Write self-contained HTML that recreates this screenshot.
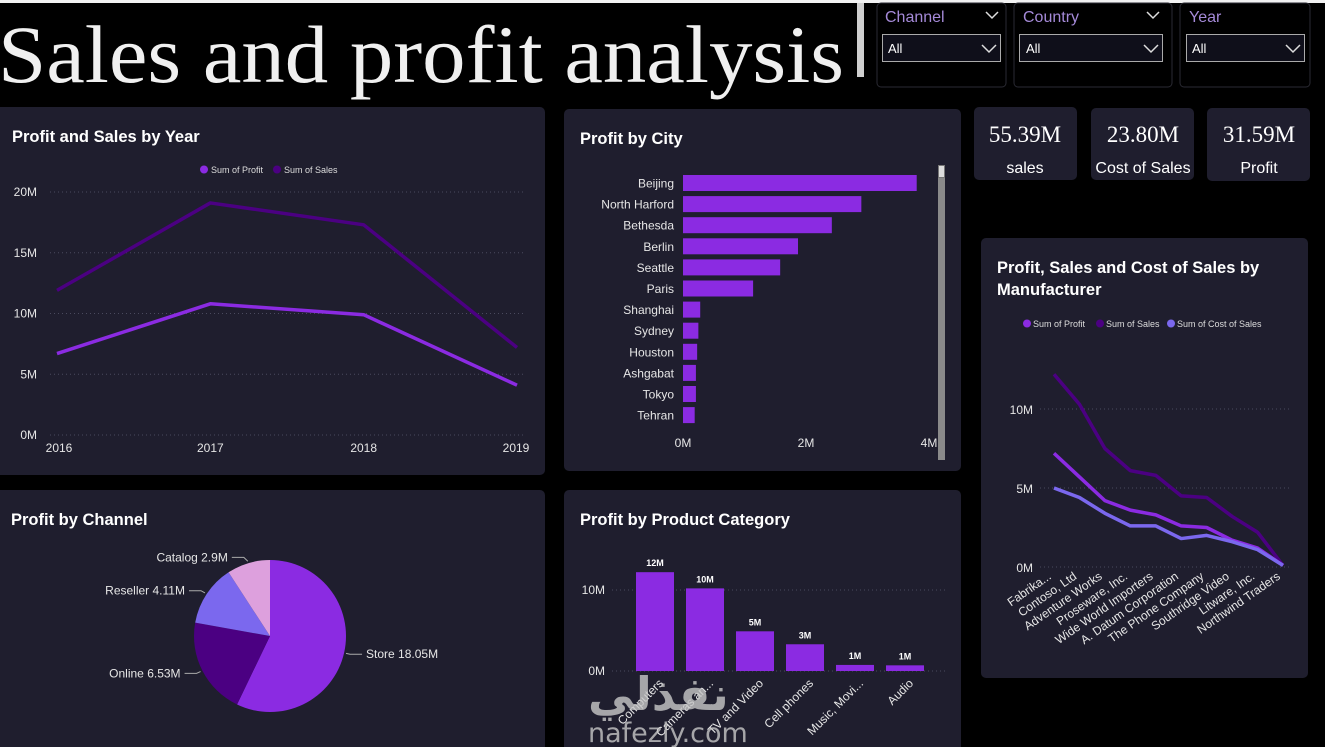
<!DOCTYPE html>
<html><head><meta charset="utf-8"><style>
html,body{margin:0;padding:0;background:#000;width:1325px;height:747px;overflow:hidden}
svg{display:block;font-family:"Liberation Sans","Noto Sans CJK SC",sans-serif}
.t{fill:#fff;font-weight:bold;font-size:16.5px}
.ax{fill:#e6e6e6;font-size:12px}
.grid{stroke:#4a4a5e;stroke-width:1;stroke-dasharray:1 3}
</style></head><body>
<svg id="s" width="1325" height="747" viewBox="0 0 1325 747">
<rect x="0" y="0" width="1325" height="747" fill="#000"/>
<rect x="0" y="0" width="1325" height="3" fill="#f2f2f2"/>
<text x="-2" y="82" font-family="'Liberation Serif',serif" font-size="82" textLength="846" lengthAdjust="spacingAndGlyphs" fill="#f0f0f0">Sales and profit analysis</text>
<rect x="857" y="3" width="7" height="74" fill="#cfcfcf"/>

<g>
<rect x="877" y="3" width="129" height="84" rx="4" fill="#000" stroke="#2a2a33"/>
<text x="885" y="22" fill="#a58ad8" font-size="16">Channel</text>
<path d="M986 12l6 6 6-6" stroke="#ddd" fill="none" stroke-width="1.5"/>
<rect x="882.5" y="34.5" width="118" height="27" fill="#0f0f1a" stroke="#aaa"/>
<text x="888" y="53" fill="#fff" font-size="13">All</text>
<path d="M982 45l7 7 7-7" stroke="#ddd" fill="none" stroke-width="1.5"/>
</g>
<g>
<rect x="1014" y="3" width="158" height="84" rx="4" fill="#000" stroke="#2a2a33"/>
<text x="1023" y="22" fill="#a58ad8" font-size="16">Country</text>
<path d="M1147 12l6 6 6-6" stroke="#ddd" fill="none" stroke-width="1.5"/>
<rect x="1019.5" y="34.5" width="143" height="27" fill="#0f0f1a" stroke="#aaa"/>
<text x="1026" y="53" fill="#fff" font-size="13">All</text>
<path d="M1144 45l7 7 7-7" stroke="#ddd" fill="none" stroke-width="1.5"/>
</g>
<g>
<rect x="1180" y="3" width="130" height="84" rx="4" fill="#000" stroke="#2a2a33"/>
<text x="1189" y="22" fill="#a58ad8" font-size="16">Year</text>
<rect x="1186.5" y="34.5" width="118" height="27" fill="#0f0f1a" stroke="#aaa"/>
<text x="1192" y="53" fill="#fff" font-size="13">All</text>
<path d="M1286 45l7 7 7-7" stroke="#ddd" fill="none" stroke-width="1.5"/>
</g>

<g>
<rect x="974" y="107" width="103" height="73" rx="5" fill="#1f1e2e"/>
<text x="1025" y="142" text-anchor="middle" fill="#fff" font-family="'Liberation Serif',serif" font-size="23">55.39M</text>
<text x="1025" y="173" text-anchor="middle" fill="#fff" font-size="16">sales</text></g>
<g>
<rect x="1091" y="108" width="103" height="72" rx="5" fill="#1f1e2e"/>
<text x="1143" y="142" text-anchor="middle" fill="#fff" font-family="'Liberation Serif',serif" font-size="23">23.80M</text>
<text x="1143" y="173" text-anchor="middle" fill="#fff" font-size="16">Cost of Sales</text></g>
<g>
<rect x="1207" y="108" width="103" height="73" rx="5" fill="#1f1e2e"/>
<text x="1259" y="142" text-anchor="middle" fill="#fff" font-family="'Liberation Serif',serif" font-size="23">31.59M</text>
<text x="1259" y="173" text-anchor="middle" fill="#fff" font-size="16">Profit</text></g>

<rect x="-5" y="107" width="550" height="368" rx="5" fill="#1f1e2e"/>
<text class="t" x="12" y="142">Profit and Sales by Year</text>
<g>
<circle cx="204" cy="169.5" r="4" fill="#8b2be2"/><text x="211" y="173" fill="#ddd" font-size="9">Sum of Profit</text>
<circle cx="277" cy="169.5" r="4" fill="#4b0082"/><text x="284" y="173" fill="#ddd" font-size="9">Sum of Sales</text></g>
<g id="yearChart"></g>

<rect x="564" y="109" width="397" height="362" rx="5" fill="#1f1e2e"/>
<text class="t" x="580" y="144">Profit by City</text>
<g id="cityChart"></g>
<rect x="938" y="165" width="7" height="295" fill="#8a8a8a"/>
<rect x="938.5" y="165.5" width="6" height="12" fill="#ddd" stroke="#777"/>

<rect x="981" y="238" width="327" height="440" rx="5" fill="#1f1e2e"/>
<text class="t" x="997" y="273">Profit, Sales and Cost of Sales by</text>
<text class="t" x="997" y="295">Manufacturer</text>
<g>
<circle cx="1027" cy="323.5" r="4" fill="#8b2be2"/><text x="1033" y="327" fill="#ddd" font-size="9">Sum of Profit</text>
<circle cx="1100" cy="323.5" r="4" fill="#4b0082"/><text x="1106" y="327" fill="#ddd" font-size="9">Sum of Sales</text>
<circle cx="1171" cy="323.5" r="4" fill="#7b68ee"/><text x="1177" y="327" fill="#ddd" font-size="9">Sum of Cost of Sales</text></g>
<g id="mfrChart"></g>

<rect x="-5" y="490" width="550" height="262" rx="5" fill="#1f1e2e"/>
<text class="t" x="11" y="525">Profit by Channel</text>
<g id="pieChart"></g>

<rect x="564" y="490" width="397" height="262" rx="5" fill="#1f1e2e"/>
<text class="t" x="580" y="525">Profit by Product Category</text>
<g id="catChart"></g>
<g opacity="0.8">
<text x="588" y="710" fill="#c8c8c8" font-size="46" font-weight="bold" font-family="'DejaVu Sans',sans-serif">نفذلي</text>
<text x="588" y="742" fill="#c8c8c8" font-size="27" font-family="'DejaVu Sans',sans-serif">nafezly.com</text></g>
</svg>
<script>
const NS="http://www.w3.org/2000/svg";
function mk(p,tag,a,txt){const e=document.createElementNS(NS,tag);for(const k in a)e.setAttribute(k,a[k]);if(txt!=null)e.textContent=txt;p.appendChild(e);return e;}

// Year chart data
const years=["2016","2017","2018","2019"];
const yearProfit=[6.7,10.8,9.9,4.1];
const yearSales=[11.9,19.1,17.3,7.2];
const yearTicks=[0,5,10,15,20];

// City data
const cities=["Beijing","North Harford","Bethesda","Berlin","Seattle","Paris","Shanghai","Sydney","Houston","Ashgabat","Tokyo","Tehran"];
const cityProfit=[3.80,2.90,2.42,1.87,1.58,1.14,0.28,0.25,0.23,0.21,0.21,0.19];
const cityTicks=[0,2,4];

// Manufacturer data
const makers=["Fabrika...","Contoso, Ltd","Adventure Works","Proseware, Inc.","Wide World Importers","A. Datum Corporation","The Phone Company","Southridge Video","Litware, Inc.","Northwind Traders"];
const mfrSales=[12.2,10.3,7.5,6.1,5.8,4.5,4.4,3.2,2.2,0.1];
const mfrProfit=[7.2,5.7,4.2,3.6,3.3,2.6,2.5,1.7,1.2,0.1];
const mfrCost=[5.0,4.4,3.4,2.6,2.6,1.8,2.0,1.6,1.1,0.1];
const mfrTicks=[0,5,10];

// Channel pie
const channels=["Store","Online","Reseller","Catalog"];
const channelProfit=[18.05,6.53,4.11,2.9];
const channelLabels=["Store 18.05M","Online 6.53M","Reseller 4.11M","Catalog 2.9M"];

// Category data
const categories=["Computers","Cameras an...","TV and Video","Cell phones","Music, Movi...","Audio"];
const catProfit=[12.2,10.2,4.9,3.3,0.75,0.7];
const catLabels=["12M","10M","5M","3M","1M","1M"];
const catTicks=[0,10];

// ---- Year line chart
(function(){
 const g=document.getElementById('yearChart');
 const y=v=>435-v*12.15, x=i=>57+i*(517-57)/(years.length-1);
 yearTicks.forEach(t=>{
  const l=mk(g,'line',{x1:50,x2:525,y1:y(t),y2:y(t),class:'grid'});
  
  
  const tx=mk(g,'text',{x:37,y:y(t)+4,'text-anchor':'end',class:'ax'},t+'M');
  
  
 });
 years.forEach((yr,i)=>{
  const tx=mk(g,'text',{x:x(i)+(i==0?2:i==years.length-1?-1:0),y:452,'text-anchor':'middle',class:'ax'},yr);
  
  
 });
 [[yearSales,'#4b0082','sales-line'],[yearProfit,'#8b2be2','profit-line']].forEach(([d,c,n])=>{
  const p=mk(g,'polyline',{points:d.map((v,i)=>x(i)+','+y(v)).join(' '),fill:'none',stroke:c,'stroke-width':3.5,'stroke-linejoin':'round'});
  
  
 });
})();

// ---- City bar chart
(function(){
 const g=document.getElementById('cityChart');
 const x=v=>683+v*61.5, rowY=i=>175+i*21.1;
 cities.forEach((c,i)=>{
  const r=mk(g,'rect',{x:683,y:rowY(i),width:x(cityProfit[i])-683,height:16,fill:'#8b2be2'});
  
  
  const t=mk(g,'text',{x:674,y:rowY(i)+12.5,'text-anchor':'end',class:'ax'},c);
  
  
 });
 cityTicks.forEach(t=>{
  const tx=mk(g,'text',{x:x(t),y:447,'text-anchor':'middle',class:'ax'},t+'M');
  
  
 });
})();

// ---- Manufacturer line chart
(function(){
 const g=document.getElementById('mfrChart');
 const y=v=>567-v*15.8, x=i=>1054+i*(1283-1054)/(makers.length-1);
 mfrTicks.forEach(t=>{
  const l=mk(g,'line',{x1:1040,x2:1290,y1:y(t),y2:y(t),class:'grid'});
  
  
  const tx=mk(g,'text',{x:1033,y:y(t)+5,'text-anchor':'end',class:'ax'},t+'M');
  
  
 });
 makers.forEach((m,i)=>{
  const tx=mk(g,'text',{x:x(i)-2,y:578,'text-anchor':'end',class:'ax','font-size':'13',transform:`rotate(-35 ${x(i)-2} 578)`},m);
  
  
 });
 [[mfrSales,'#4b0082','mfr-sales-line'],[mfrProfit,'#8b2be2','mfr-profit-line'],[mfrCost,'#7b68ee','mfr-cost-line']].forEach(([d,c,n])=>{
  const p=mk(g,'polyline',{points:d.map((v,i)=>x(i)+','+y(v)).join(' '),fill:'none',stroke:c,'stroke-width':3.5,'stroke-linejoin':'round'});
  
  
 });
})();

// ---- Pie
(function(){
 const g=document.getElementById('pieChart');
 const cx=270,cy=636,r=76,cols=['#8b2be2','#4b0082','#7b68ee','#dda0dd'];
 const tot=channelProfit.reduce((a,b)=>a+b,0);
 let a0=-Math.PI/2;
 channelProfit.forEach((v,i)=>{
  const a1=a0+v/tot*2*Math.PI;
  const large=(a1-a0)>Math.PI?1:0;
  const p=mk(g,'path',{d:`M${cx},${cy} L${cx+r*Math.cos(a0)},${cy+r*Math.sin(a0)} A${r},${r} 0 ${large} 1 ${cx+r*Math.cos(a1)},${cy+r*Math.sin(a1)} Z`,fill:cols[i]});
  
  
  const am=(a0+a1)/2, ex=cx+(r+2)*Math.cos(am), ey=cy+(r+2)*Math.sin(am);
  const right=Math.cos(am)>0;
  const lx=ex+(right?16:-16), ly=ey+(Math.sin(am)*4);
  const l=mk(g,'polyline',{points:`${ex},${ey} ${ex+(right?4:-4)},${ly} ${lx},${ly}`,fill:'none',stroke:'#aaa','stroke-width':1});
  
  
  const t=mk(g,'text',{x:lx+(right?4:-4),y:ly+4,'text-anchor':right?'start':'end',class:'ax'},channelLabels[i]);
  
  
  a0=a1;
 });
})();

// ---- Category bar chart
(function(){
 const g=document.getElementById('catChart');
 const y=v=>671-v*8.1, x=i=>636+i*50;
 catTicks.forEach(t=>{
  const l=mk(g,'line',{x1:612,x2:945,y1:y(t),y2:y(t),class:'grid'});
  
  
  const tx=mk(g,'text',{x:605,y:y(t)+4,'text-anchor':'end',class:'ax'},t+'M');
  
  
 });
 categories.forEach((c,i)=>{
  const r=mk(g,'rect',{x:x(i),y:y(catProfit[i]),width:38,height:catProfit[i]*8.1,fill:'#8b2be2'});
  
  
  const v=mk(g,'text',{x:x(i)+19,y:y(catProfit[i])-6,'text-anchor':'middle',fill:'#fff','font-size':'9','font-weight':'bold'},catLabels[i]);
  
  
  const lx=x(i)+28;
  const t=mk(g,'text',{x:lx,y:684,'text-anchor':'end',class:'ax','font-size':'13',transform:`rotate(-45 ${lx} 684)`},c);
  
  
 });
})();
</script>
</body></html>
